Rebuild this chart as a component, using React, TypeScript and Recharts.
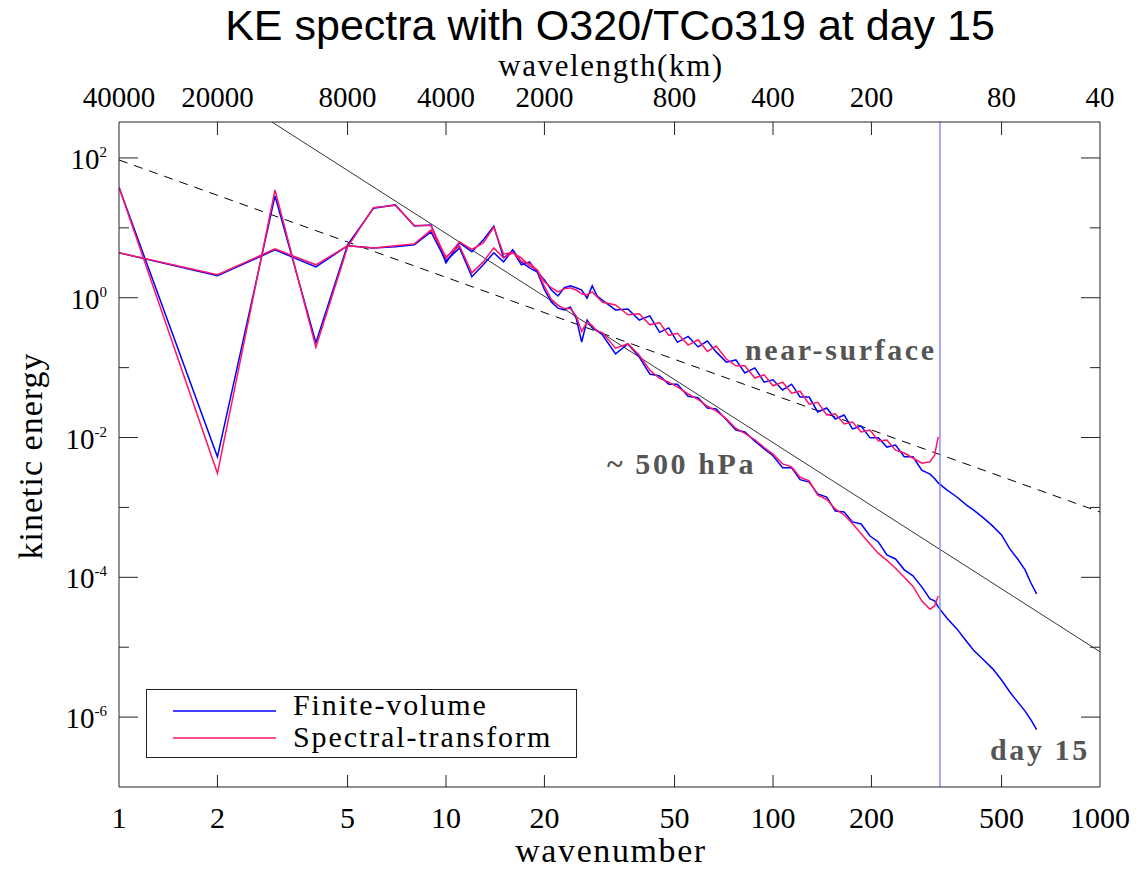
import { LineChart, Line, XAxis, YAxis, ReferenceLine, Legend } from "recharts";

const SERIF = "'Liberation Serif', 'Times New Roman', serif";
const SANS = "'Liberation Sans', Arial, sans-serif";
const BLUE = "#0000ff";
const RED = "#ff1568";
const FRAME = "#222";
const NOTE = "#555";

// wavenumbers shared by both runs (up to the truncation)
const wavenumbers = [
  1, 2, 3, 4, 5, 6, 7, 8, 9, 10, 11, 12, 13, 14, 15, 16, 17, 18, 19, 20,
  21, 22, 23, 24, 25, 26, 27, 28, 29, 30, 33, 36, 39, 42, 45, 48, 51, 55, 59, 63,
  67, 72, 77, 82, 88, 94, 100, 107, 114, 121, 129, 137, 146, 155, 165, 175, 186, 198, 210, 223,
  237, 252, 268, 285, 302, 312, 320,
];

// near-surface spectra
const fvSurface = [
  4.4, 2.06, 4.85, 2.77, 5.53, 5.17, 5.35, 5.71, 8.77, 3.37, 5.17, 2.0, 2.96, 4.4, 3.26, 4.85, 3.26, 2.68, 2.35, 1.8,
  1.29, 1.06, 1.39, 1.48, 1.39, 1.29, 0.99, 1.48, 1.06, 0.93, 0.67, 0.69, 0.48, 0.55, 0.32, 0.37, 0.23, 0.28, 0.198, 0.24,
  0.168, 0.12, 0.129, 0.084, 0.099, 0.062, 0.067, 0.048, 0.058, 0.038, 0.038, 0.0232, 0.0265, 0.0184, 0.021, 0.0133, 0.0146, 0.0099, 0.0099, 0.0073,
  0.0078, 0.0053, 0.0053, 0.0034, 0.003, 0.0026, 0.00224,
];
const stSurface = [
  4.4, 2.13, 5.0, 2.96, 5.53, 5.17, 5.53, 5.9, 9.36, 3.85, 5.53, 2.27, 3.26, 5.17, 3.72, 4.4, 3.72, 2.86, 2.51, 1.69,
  1.39, 1.21, 1.34, 1.39, 1.29, 1.14, 1.1, 1.21, 1.03, 0.87, 0.79, 0.57, 0.59, 0.41, 0.44, 0.29, 0.31, 0.21, 0.25, 0.17,
  0.204, 0.133, 0.106, 0.106, 0.071, 0.079, 0.055, 0.062, 0.043, 0.046, 0.03, 0.032, 0.021, 0.0218, 0.0156, 0.0167, 0.012, 0.0128, 0.0089, 0.0092,
  0.0066, 0.006, 0.0051, 0.0043, 0.0045, 0.0056, 0.0102,
];

// ~500 hPa spectra
const fv500 = [
  38.1, 0.0053, 28.6, 0.228, 5.71, 19.1, 21.3, 10.6, 11.0, 3.16, 6.1, 4.54, 6.7, 10.6, 3.72, 4.69, 2.96, 3.26, 2.35, 1.3,
  0.87, 0.71, 0.67, 0.74, 0.51, 0.233, 0.48, 0.37, 0.335, 0.3, 0.157, 0.218, 0.142, 0.081, 0.076, 0.058, 0.058, 0.039, 0.037, 0.0265,
  0.0257, 0.0179, 0.0128, 0.012, 0.0089, 0.0069, 0.0055, 0.0037, 0.0037, 0.0025, 0.0023, 0.00156, 0.00141, 8.9e-4, 8.6e-4, 6.2e-4, 5.8e-4, 3.9e-4, 3.2e-4, 2.09e-4,
  1.83e-4, 1.28e-4, 1.05e-4, 7.3e-5, 4.9e-5, 4.6e-5, 3.77e-5,
];
const st500 = [
  38.1, 0.00308, 34.8, 0.196, 5.3, 19.5, 21.0, 10.8, 10.8, 3.67, 6.3, 4.9, 6.1, 10.2, 4.2, 4.5, 3.3, 3.1, 2.5, 1.45,
  0.95, 0.78, 0.7, 0.7, 0.55, 0.33, 0.45, 0.4, 0.33, 0.32, 0.19, 0.22, 0.15, 0.092, 0.07, 0.062, 0.053, 0.042, 0.035, 0.028,
  0.024, 0.0185, 0.0135, 0.0115, 0.0093, 0.0072, 0.0058, 0.0042, 0.0038, 0.0027, 0.0024, 0.0015, 0.0013, 9.5e-4, 7.8e-4, 5.9e-4, 4.2e-4, 3.0e-4, 2.2e-4, 1.75e-4,
  1.35e-4, 1.0e-4, 7.4e-5, 4.6e-5, 3.5e-5, 3.9e-5, 5.4e-5,
];

// only the finite-volume run goes past the truncation
const fvTailWavenumbers = [340, 365, 390, 410, 440, 470, 500, 530, 560, 590, 615, 640];
const fvSurfaceTail = [1.78e-3, 1.41e-3, 1.09e-3, 9.2e-4, 7.1e-4, 5.4e-4, 4.04e-4, 2.55e-4, 1.83e-4, 1.28e-4, 8.3e-5, 5.8e-5];
const fv500Tail = [2.62e-5, 1.83e-5, 1.23e-5, 9.1e-6, 6.6e-6, 4.9e-6, 3.4e-6, 2.29e-6, 1.65e-6, 1.22e-6, 9.1e-7, 6.6e-7];

// reference slopes (k^-3 solid, k^-5/3 dashed), end points
const minus3K = [2.94, 1000];
const minus3E = [325, 8.6e-6];
const minus53K = [1, 1000];
const minus53E = [93.6, 8.6e-4];

const truncation = 324;

const xTicks = [1, 2, 5, 10, 20, 50, 100, 200, 500, 1000];
const wavelengthLabels = ["40000", "20000", "8000", "4000", "2000", "800", "400", "200", "80", "40"];
const yTicks = [100, 10, 1, 0.1, 0.01, 1e-3, 1e-4, 1e-5, 1e-6];

const legendItems = [
  { label: "Finite-volume", color: BLUE },
  { label: "Spectral-transform", color: RED },
];

const pts = (ks: number[], es: number[]) => ks.map((k, i) => ({ k, e: es[i] }));

const W = 1124;
const H = 855;

const BottomTick = ({ x, y, payload }: any) => {
  const edge = payload.value === 1 || payload.value === 1000;
  return (
    <g>
      {!edge && <line x1={x} y1={y} x2={x} y2={y - 12} stroke={FRAME} />}
      <text x={x} y={y + 41} textAnchor="middle" fontFamily={SERIF} fontSize={30} fill="#000">
        {payload.value}
      </text>
    </g>
  );
};

const TopTick = ({ x, y, payload, index }: any) => {
  const edge = payload.value === 1 || payload.value === 1000;
  return (
    <g>
      {!edge && <line x1={x} y1={y} x2={x} y2={y + 13} stroke={FRAME} />}
      <text x={x} y={y - 15} textAnchor="middle" fontFamily={SERIF} fontSize={29} fill="#000">
        {wavelengthLabels[index]}
      </text>
    </g>
  );
};

const LeftTick = ({ x, y, payload }: any) => {
  const p = Math.round(Math.log10(payload.value));
  const major = p % 2 === 0;
  return (
    <g>
      <line x1={x} y1={y} x2={x + (major ? 19 : 10)} y2={y} stroke={FRAME} />
      {major && (
        <text x={x - 12} y={y + 11} textAnchor="end" fontFamily={SERIF} fontSize={29} fill="#000">
          10
          <tspan dy={-12} fontSize={15}>
            {p}
          </tspan>
        </text>
      )}
    </g>
  );
};

const RightTick = ({ x, y, payload }: any) => {
  const p = Math.round(Math.log10(payload.value));
  const major = p % 2 === 0;
  return <line x1={x} y1={y} x2={x - (major ? 19 : 10)} y2={y} stroke={FRAME} />;
};

const LegendBox = () => (
  <div style={{ width: 431, height: 69, border: `1px solid ${FRAME}`, boxSizing: "border-box", background: "#fff" }}>
    <svg width={429} height={67} style={{ display: "block", overflow: "visible" }}>
      {legendItems.map((it, i) => (
        <g key={it.label}>
          <line x1={26} x2={129} y1={21 + i * 27} y2={21 + i * 27} stroke={it.color} strokeWidth={1.4} />
          <text x={146} y={25 + i * 32} fontFamily={SERIF} fontSize={30} letterSpacing={1.9} fill="#000">
            {it.label}
          </text>
        </g>
      ))}
    </svg>
  </div>
);

export default function App() {
  const lineProps = { dataKey: "e", dot: false, isAnimationActive: false, strokeWidth: 1.5 } as const;
  return (
    <div style={{ position: "relative", width: W, height: H }}>
      <LineChart width={W} height={H} margin={{ top: 54, right: 22, bottom: 26, left: 11 }}>
        <XAxis
          dataKey="k"
          type="number"
          scale="log"
          domain={[1, 1000]}
          allowDataOverflow
          ticks={xTicks}
          interval={0}
          height={50}
          tickSize={0}
          tickMargin={0}
          tickLine={false}
          axisLine={{ stroke: FRAME }}
          tick={(p: any) => <BottomTick {...p} />}
        />
        <XAxis
          xAxisId="top"
          orientation="top"
          dataKey="k"
          type="number"
          scale="log"
          domain={[1, 1000]}
          allowDataOverflow
          ticks={xTicks}
          interval={0}
          height={60}
          tickSize={0}
          tickMargin={0}
          tickLine={false}
          axisLine={{ stroke: FRAME }}
          tick={(p: any) => <TopTick {...p} />}
        />
        <YAxis
          type="number"
          scale="log"
          domain={[1e-7, 327]}
          allowDataOverflow
          ticks={yTicks}
          interval={0}
          width={100}
          tickSize={0}
          tickMargin={0}
          tickLine={false}
          axisLine={{ stroke: FRAME }}
          tick={(p: any) => <LeftTick {...p} />}
        />
        <YAxis
          yAxisId="right"
          orientation="right"
          type="number"
          scale="log"
          domain={[1e-7, 327]}
          allowDataOverflow
          ticks={yTicks}
          interval={0}
          width={10}
          tickSize={0}
          tickMargin={0}
          tickLine={false}
          axisLine={{ stroke: FRAME }}
          tick={(p: any) => <RightTick {...p} />}
        />
        <Line {...lineProps} data={pts(minus53K, minus53E)} stroke="#000" strokeWidth={1} strokeDasharray="9 7" />
        <Line {...lineProps} data={pts(minus3K, minus3E)} stroke="#333" strokeWidth={1} />
        <Line {...lineProps} data={[...pts(wavenumbers, fvSurface), ...pts(fvTailWavenumbers, fvSurfaceTail)]} stroke={BLUE} />
        <Line {...lineProps} data={[...pts(wavenumbers, fv500), ...pts(fvTailWavenumbers, fv500Tail)]} stroke={BLUE} />
        <Line {...lineProps} data={pts(wavenumbers, stSurface)} stroke={RED} />
        <Line {...lineProps} data={pts(wavenumbers, st500)} stroke={RED} />
        <ReferenceLine x={truncation} stroke="#7b7bff" strokeWidth={1.3} />
        <Legend
          layout="vertical"
          align="center"
          verticalAlign="middle"
          content={() => <LegendBox />}
          wrapperStyle={{ left: 138, top: 681, width: 431, height: 69 }}
        />
      </LineChart>
      <svg
        width={W}
        height={863}
        style={{ position: "absolute", left: 0, top: 0, pointerEvents: "none", overflow: "visible" }}
      >
        <text x={602} y={32} textAnchor="middle" fontFamily={SANS} fontSize={43} fill="#000">
          KE spectra with O320/TCo319 at day 15
        </text>
        <text x={603} y={68} textAnchor="middle" fontFamily={SERIF} fontSize={31} letterSpacing={1.6} fill="#000">
          wavelength(km)
        </text>
        <text x={603} y={854} textAnchor="middle" fontFamily={SERIF} fontSize={34} letterSpacing={1.6} fill="#000">
          wavenumber
        </text>
        <text
          transform="translate(34 448) rotate(-90)"
          textAnchor="middle"
          fontFamily={SERIF}
          fontSize={34}
          letterSpacing={1}
          fill="#000"
        >
          kinetic energy
        </text>
        <text x={737} y={352} fontFamily={SERIF} fontWeight="bold" fontSize={30} letterSpacing={2.6} fill={NOTE}>
          near-surface
        </text>
        <text x={599} y={466} fontFamily={SERIF} fontWeight="bold" fontSize={30} letterSpacing={2.6} fill={NOTE}>
          ~ 500 hPa
        </text>
        <text x={982} y={752} fontFamily={SERIF} fontWeight="bold" fontSize={30} letterSpacing={2.6} fill={NOTE}>
          day 15
        </text>
      </svg>
    </div>
  );
}
